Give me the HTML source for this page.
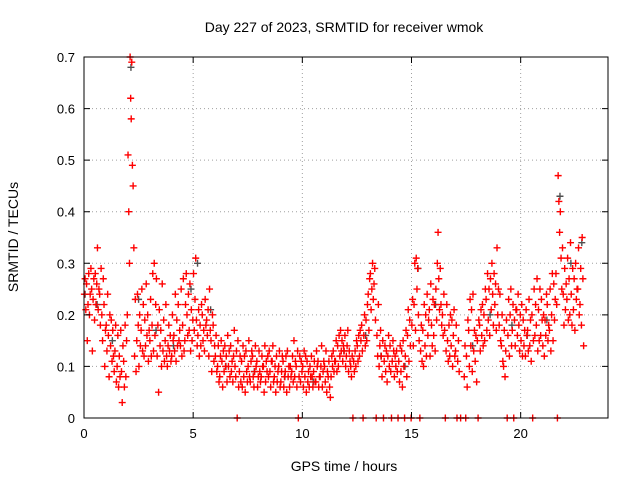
<!DOCTYPE html>
<html><head><meta charset="utf-8"><style>
body{margin:0;background:#fff}
svg{display:block;font-family:"Liberation Sans",sans-serif}
</style></head><body>
<svg id="chart" width="640" height="480">
<rect width="640" height="480" fill="#fff"/>
<text x="344" y="32" font-size="14" text-anchor="middle">Day 227 of 2023, SRMTID for receiver wmok</text>
<text x="344" y="471" font-size="14" text-anchor="middle">GPS time / hours</text>
<text x="18" y="237" font-size="14" text-anchor="middle" transform="rotate(-90 18 237)">SRMTID / TECUs</text>
<g id="grid"></g>
<g id="marks"></g>
<rect x="84" y="57" width="524" height="361" fill="none" stroke="#000" stroke-width="1"/>
<g id="ticks"></g>
</svg>
<script>
const xTicks=[0,5,10,15,20];
const yTicks=[0,0.1,0.2,0.3,0.4,0.5,0.6,0.7];
const yTickLabels=["0","0.1","0.2","0.3","0.4","0.5","0.6","0.7"];
const binStart=0, binWidth=0.1;
const redBins=[
[.24,.27,.21],[.26,.15,.22],[.28,.20,.24],[.29,.25,.13],[.23,.27,.19],[.28,.22,.26],[.33,.21,.25],[.24,.18,.29],[.20,.15,.27],[.22,.10,.17],
[.18,.13,.24],[.16,.08,.20],[.14,.19,.11],[.17,.12,.09],[.13,.18,.07],[.10,.16,.06],[.12,.08,.17],[.09,.03,.14],[.11,.06,.18],[.08,.15,.20],
[.51,.40,.30],[.70,.62,.58,.69],[.49,.45,.33],[.12,.23,.09],[.15,.24,.18],[.10,.20,.14],[.17,.25,.13],[.22,.12,.19],[.14,.26,.16],[.20,.11,.17],
[.15,.23,.12],[.18,.28,.13],[.30,.16,.22],[.27,.12,.18],[.05,.21,.14],[.17,.10,.26],[.13,.19,.11],[.15,.22,.12],[.10,.14,.18],[.13,.16,.11],
[.12,.20,.15],[.16,.13,.24],[.11,.19,.14],[.22,.15,.17],[.14,.25,.12],[.18,.27,.13],[.15,.22,.28],[.20,.16,.24],[.17,.26,.13],[.21,.15,.19],
[.28,.17,.23],[.31,.19,.14],[.16,.21,.12],[.18,.14,.22],[.20,.15,.17],[.13,.23,.18],[.19,.16,.21],[.12,.25,.17],[.15,.09,.20],[.18,.11,.14],
[.12,.16,.09],[.10,.14,.07],[.08,.12,.15],[.11,.06,.13],[.09,.14,.10],[.12,.07,.16],[.10,.13,.08],[.14,.09,.11],[.07,.12,.17],[.10,.08,.13],
[0,.15,.06],[.09,.12,.07],[.11,.06,.14],[.08,.12,.05],[.13,.09,.07],[.10,.15,.08],[.07,.11,.13],[.12,.08,.06],[.09,.14,.10],[.11,.06,.08],
[.13,.09,.07],[.08,.12,.10],[.10,.05,.14],[.07,.11,.09],[.12,.08,.13],[.09,.06,.11],[.11,.14,.07],[.08,.10,.05],[.12,.07,.09],[.10,.13,.06],
[.07,.09,.12],[.11,.06,.08],[.09,.12,.05],[.13,.08,.10],[.06,.10,.08],[.09,.12,.07],[.15,.08,.11],[.10,.06,.13],[0,.08,.12],[.07,.11,.09],
[.10,.06,.13],[.08,.12,.05],[.11,.07,.09],[.06,.10,.08],[.12,.08,.06],[.09,.11,.07],[.07,.13,.10],[.11,.06,.08],[.08,.10,.14],[.06,.09,.11],
[.10,.07,.13],[.05,.09,.08],[.11,.06,.04],[.08,.12,.10],[.13,.09,.11],[.11,.15,.09],[.14,.10,.16],[.12,.17,.13],[.15,.11,.14],[.13,.16,.10],
[.12,.14,.17],[.09,.13,.11],[.10,.08,.12],[0,.11,.09],[.13,.10,.15],[.14,.11,.16],[.12,.17,.15],[.18,.13,0],[.16,.20,.14],[.19,.15,.22],
[.24,.17,.27],[.28,.21,.25],[.30,.23,.26],[.29,.19,0],[.16,.12,.22],[.10,.14,.17],[.12,.08,.15],[0,.11,.14],[.09,.13,.07],[.12,.16,.10],
[.14,.09,0],[.11,.15,.13],[.08,.12,.10],[.13,.09,0],[.11,.07,.14],[.09,.13,.06],[.15,.10,0],[.12,.17,.08],[.16,.21,.11],[.19,.14,0],
[.18,.23,.14],[.22,.30,.17],[.31,.25,.29],[.20,.15,0],[.13,.18,.11],[.17,.10,.22],[.14,.20,.12],[.24,.16,.19],[.21,.12,.26],[.18,.14,.23],
[.16,.22,.13],[.25,.19,.30],[.36,.27,.21],[.29,.22,.18],[.20,.16,.24],[.17,0,.13],[.22,.15,.11],[.18,.12,.20],[.14,.19,.10],[.16,.21,.12],
[.13,.18,0],[.11,.15,.09],[0],[],[.08,.14,0],[.12,.06,.19],[.17,.10,.23],[.14,.21,.09],[.24,.13,.17],[.11,.16,.07],
[.15,0,.19],[.18,.13,.21],[.16,.22,.14],[.20,.15,.25],[.23,.17,.28],[.19,.25,.16],[.27,.21,.30],[.24,.18,.28],[.22,.26,.17],[.33,.20,.25],
[.18,.24,.15],[.14,.20,.11],[.10,.17,.08],[.13,.19,0],[.16,.23,.12],[.20,.25,.14],[.17,.22,0],[.19,.14,.21],[.21,.16,.24],[.18,.13,.20],
[.15,.22,.12],[.19,.14,.17],[.12,.21,.16],[.17,.13,.23],[.14,.19,.11],[.20,0,.15],[.25,.16,.22],[.18,.27,.13],[.21,.15,.25],[.16,.23,.19],
[.14,.20,.12],[.19,.16,.24],[.22,.15,.18],[.17,.25,.13],[.20,.28,.15],[.26,.19,.23],[.28,.22,0],[.47,.42,.36],[.40,.31,.25],[.33,.24,.18],
[.29,.21,.26],[.23,.31,.19],[.27,.20,.34],[.24,.18,.29],[.21,.27,.17],[.30,.23,.25],[.25,.33,.20],[.22,.29,.18],[.35,.27,.14]
];
const grayHours=[0.05,0.6,1.3,2.15,2.5,3.3,4.1,4.9,5.2,5.8,6.5,7.8,9.2,10.5,11.9,12.9,13.6,14.7,15.3,16.1,17.8,18.6,19.6,20.3,21.2,21.8,22.3,22.8];
const grayValues=[.24,.22,.15,.68,.23,.17,.14,.25,.30,.21,.10,.09,.08,.07,.13,.16,.12,.10,.29,.22,.14,.20,.18,.16,.19,.43,.30,.34];

const X0=84,X1=608,Y0=418,Y1=57,XMAX=24,YMAX=0.7;
const xs=h=>X0+h/XMAX*(X1-X0);
const ys=v=>Y0-v/YMAX*(Y0-Y1);
const NS="http://www.w3.org/2000/svg";
const grid=document.getElementById('grid'),ticks=document.getElementById('ticks'),marks=document.getElementById('marks');
function mk(tag,attrs,parent){const e=document.createElementNS(NS,tag);for(const k in attrs)e.setAttribute(k,attrs[k]);parent.appendChild(e);return e;}
xTicks.forEach(t=>{
  const x=xs(t);
  if(t>0){const g=mk('line',{x1:x,x2:x,y1:Y0,y2:Y1,stroke:'#a0a0a0','stroke-dasharray':'1,3'},grid);
  
  }
  const tk=mk('path',{d:`M${x},${Y0}v-6M${x},${Y1}v6`,stroke:'#000'},ticks);
  
  
  const lb=mk('text',{x:x,y:Y0+20,'font-size':13,'text-anchor':'middle'},ticks);lb.textContent=t;
  
  
});
yTicks.forEach((t,i)=>{
  const y=ys(t);
  if(t>0&&t<YMAX){const g=mk('line',{x1:X0,x2:X1,y1:y,y2:y,stroke:'#a0a0a0','stroke-dasharray':'1,3'},grid);
  
  }
  const tk=mk('path',{d:`M${X0},${y}h6M${X1},${y}h-6`,stroke:'#000'},ticks);
  
  
  const lb=mk('text',{x:X0-9,y:y+5,'font-size':13,'text-anchor':'end'},ticks);lb.textContent=yTickLabels[i];
  
  
});
function plus(h,v,color,name){
  const x=xs(h),y=ys(v);
  const p=mk('path',{d:`M${x-3.5},${y}h7M${x},${y-3.5}v7`,stroke:color,'stroke-width':1.4},marks);
  
  
}
grayHours.forEach((h,i)=>plus(h,grayValues[i],'#505050','gray-point'));
redBins.forEach((bin,i)=>{
  bin.forEach((v,j)=>{
    const h=binStart+binWidth*(i+(j+0.5)/Math.max(bin.length,1));
    plus(h,v,'#ff0000','red-point');
  });
});
</script>
</body></html>
